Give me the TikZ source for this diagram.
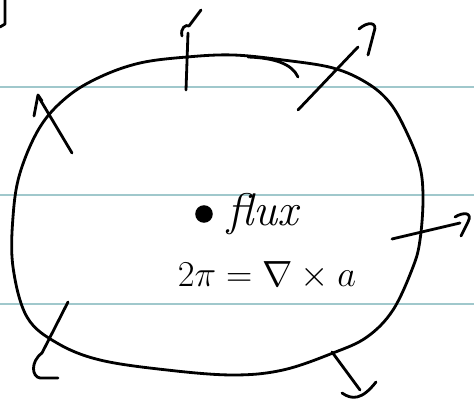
\documentclass[tikz,border=0pt]{standalone}
\usepackage{amsmath, amssymb}
\usepackage{tikz}
\usetikzlibrary{positioning}
\definecolor{ruleteal}{RGB}{160,200,204}

\begin{document}
\begin{tikzpicture}[x=0.02cm, y=-0.02cm]
    \tikzstyle{pen} = [line width=1.6pt, line cap=round, line join=round]
    \tikzstyle{ruled} = [ruleteal, line width=1.3pt]
    \tikzstyle{label} = [inner sep=0pt]

    \useasboundingbox (0,0) rectangle (474,404);

    % notebook lines
    \foreach \y in {87, 195, 304}
        \draw [ruled] (0,\y) -- (474,\y);

    % loop
    \draw [pen] plot [smooth cycle, tension=0.6] coordinates {
        (187,57) (233,55) (283,60) (333,68) (367,83) (390,103) (407,133)
        (420,167) (423,200) (420,240) (413,267) (393,310) (367,337)
        (333,353) (283,370) (233,375) (167,370) (100,360) (57,343)
        (27,317) (13,267) (13,217) (20,173) (40,127) (67,97) (100,77) (140,63)};
    \draw [pen] (248,57) .. controls (275,58) and (292,64) .. (298,77);

    % stray stroke
    \draw [pen] (5,0) -- (5,24) -- (0,27);

    % outward arrows
    \draw [pen] (186,90) -- (188,33);
    \draw [pen] (182,36) .. controls (180,28) and (186,24) .. (189,26) -- (201,10);
    \draw [pen] (298,110) -- (358,47);
    \draw [pen] (359,29) .. controls (368,21) and (378,22) .. (374,32) -- (368,55);
    \draw [pen] (72,153) -- (38,96);
    \draw [pen] (34,116) -- (38,95) -- (42,101);
    \draw [pen] (392,239) -- (460,223);
    \draw [pen] (455,217) .. controls (463,212) and (473,212) .. (468,222) -- (461,236);
    \draw [pen] (332,352) -- (360,390);
    \draw [pen] (342,393) .. controls (352,400) and (362,400) .. (376,382);
    \draw [pen] (68,302) -- (42,353);
    \draw [pen] (42,353) .. controls (30,362) and (32,377) .. (40,378) -- (58,378);

    % centre
    \node [circle, fill, inner sep=0pt, minimum size=10pt] (dot) at (204,214) {};
    \node [label, font=\fontsize{26}{28}\selectfont, right=8pt of dot] (flux) {\itshape flux};
    \node [label, font=\fontsize{22}{24}\selectfont] (curl) at (267,276) {$2\pi = \nabla \times a$};
\end{tikzpicture}
\end{document}
